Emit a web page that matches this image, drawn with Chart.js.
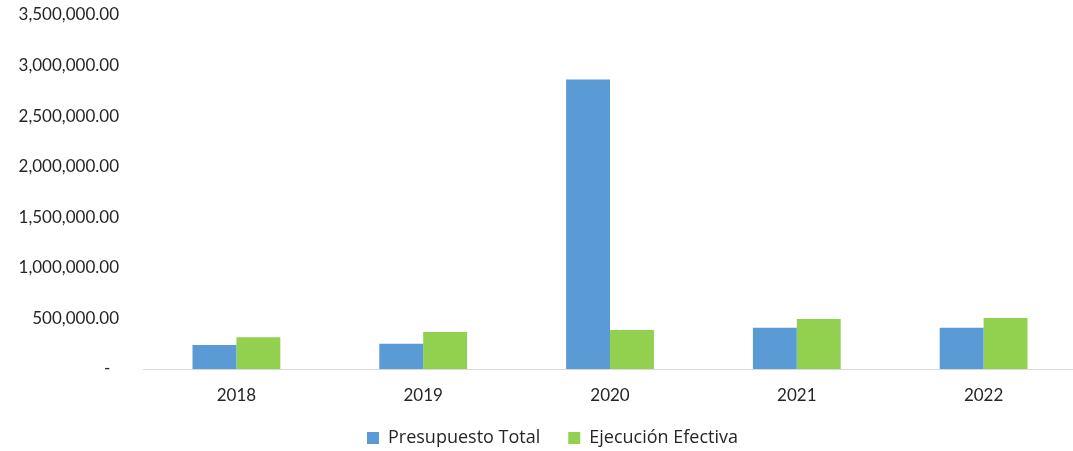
<!DOCTYPE html>
<html>
<head>
<meta charset="utf-8">
<script src="https://cdn.jsdelivr.net/npm/chart.js@4"></script>
<style>
  html, body { margin: 0; padding: 0; background: #fff; overflow: hidden; }
  #wrap { width: 1080px; height: 457px; }
</style>
</head>
<body>
<div id="wrap"><canvas id="barchart" width="1080" height="457"></canvas></div>
<script>
const years = ['2018', '2019', '2020', '2021', '2022'];
const presupuestoTotal = [238000, 250000, 2862000, 409000, 409000];
const ejecucionEfectiva = [313000, 366000, 386000, 495000, 505000];
const yTicks = [0, 500000, 1000000, 1500000, 2000000, 2500000, 3000000, 3500000];

const ctx = document.getElementById('barchart').getContext('2d');

// legend in the original sits a little right of the canvas centre
const legendShift = {
  id: 'legendShift',
  afterLayout: function (chart) {
    chart.legend.left += 14;
    chart.legend.right += 14;
  }
};

const barchart = new Chart(ctx, {
  type: 'bar',
  data: {
    labels: years,
    datasets: [{
      label: 'Presupuesto Total',
      data: presupuestoTotal,
      backgroundColor: '#5B9BD5',
      borderWidth: 0
    }, {
      label: 'Ejecución Efectiva',
      data: ejecucionEfectiva,
      backgroundColor: '#92D050',
      borderWidth: 0
    }]
  },
  options: {
    responsive: false,
    animation: false,
    layout: {
      padding: { top: 15, right: 3, left: 0, bottom: 0 }
    },
    datasets: {
      bar: { categoryPercentage: 0.47, barPercentage: 1.0 }
    },
    scales: {
      x: {
        grid: { display: false },
        border: { display: true, color: '#d9d9d9', width: 1 },
        afterFit: function (scale) {
          scale.height = 32;
        },
        ticks: {
          color: '#262626',
          padding: 8,
          font: { family: 'Lato', size: 17 }
        }
      },
      y: {
        min: yTicks[0],
        max: yTicks[yTicks.length - 1],
        afterBuildTicks: function (scale) {
          scale.ticks = yTicks.map(v => ({ value: v }));
        },
        afterFit: function (scale) {
          scale.width = 143;
          scale.paddingTop = 0;
          scale.paddingBottom = 0;
        },
        grid: { display: false },
        border: { display: false },
        ticks: {
          color: '#262626',
          padding: 16,
          font: { family: 'Lato', size: 17 },
          callback: function (value) {
            if (value === 0) return '-  ';
            return value.toLocaleString('en-US', { minimumFractionDigits: 2, maximumFractionDigits: 2 });
          }
        }
      }
    },
    plugins: {
      legend: {
        position: 'bottom',
        labels: {
          color: '#262626',
          boxWidth: 12,
          boxHeight: 12,
          padding: 28,
          font: { family: 'Open Sans', size: 18 }
        }
      },
      tooltip: { enabled: false }
    }
  },
  plugins: [legendShift]
});
</script>
</body>
</html>
